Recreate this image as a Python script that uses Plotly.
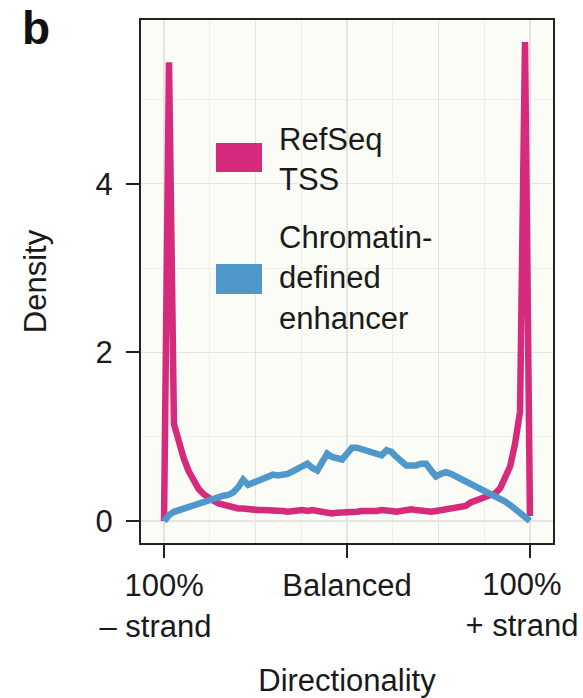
import plotly.graph_objects as go

# ---- data ----
n_points = 75
directionality = [round(-1 + 2 * k / (n_points - 1), 4) for k in range(n_points)]

refseq_tss = [
    0.00, 5.44, 1.15, 0.92, 0.74, 0.59, 0.47, 0.38, 0.32, 0.27,
    0.24, 0.21, 0.19, 0.17, 0.16, 0.15, 0.15, 0.14, 0.14, 0.13,
    0.13, 0.13, 0.12, 0.12, 0.12, 0.11, 0.12, 0.12, 0.13, 0.12,
    0.13, 0.12, 0.11, 0.10, 0.09, 0.10, 0.10, 0.10, 0.11, 0.11,
    0.12, 0.12, 0.11, 0.12, 0.13, 0.13, 0.12, 0.11, 0.12, 0.13,
    0.14, 0.13, 0.12, 0.11, 0.11, 0.12, 0.13, 0.14, 0.15, 0.16,
    0.17, 0.18, 0.22, 0.24, 0.25, 0.27, 0.29, 0.33, 0.39, 0.50,
    0.65, 0.92, 1.30, 5.68, 0.06,
]

chromatin_enhancer = [
    0.00, 0.07, 0.11, 0.13, 0.15, 0.17, 0.18, 0.21, 0.24, 0.26,
    0.28, 0.29, 0.30, 0.31, 0.34, 0.40, 0.49, 0.43, 0.45, 0.48,
    0.50, 0.53, 0.55, 0.54, 0.55, 0.56, 0.59, 0.62, 0.65, 0.68,
    0.63, 0.60, 0.70, 0.80, 0.76, 0.74, 0.73, 0.80, 0.87, 0.87,
    0.85, 0.83, 0.81, 0.79, 0.78, 0.84, 0.82, 0.76, 0.70, 0.66,
    0.66, 0.66, 0.68, 0.68, 0.60, 0.53, 0.56, 0.58, 0.56, 0.53,
    0.50, 0.47, 0.44, 0.41, 0.38, 0.35, 0.33, 0.31, 0.27, 0.23,
    0.19, 0.14, 0.10, 0.05, 0.00,
]

NB = "\u00a0"
x_tick_values = [-1, 0, 1]
x_tick_labels = ["100%<br>\u2013 strand" + NB * 2, "Balanced",
                 "100%<br>+ strand"]
y_tick_values = [0, 2, 4]
series_names = ["RefSeq<br>TSS", "Chromatin-<br>defined<br>enhancer"]

# ---- style ----
PINK = "#d62a7c"
BLUE = "#4e98cb"
FONT = "Liberation Sans, Arial, Helvetica, sans-serif"
W, H = 583, 698
L, R, T, B = 141, 553, 20, 543  # plot area in pixels


def px_x(p):
    return (p - L) / (R - L)


def px_y(p):
    return (B - p) / (B - T)


fig = go.Figure()
fig.add_trace(go.Scatter(x=directionality, y=refseq_tss, mode="lines",
                         line=dict(color=PINK, width=6.5, shape="linear"),
                         name="RefSeq TSS", showlegend=False, hoverinfo="skip"))
fig.add_trace(go.Scatter(x=directionality, y=chromatin_enhancer, mode="lines",
                         xaxis="x2",
                         line=dict(color=BLUE, width=6.5, shape="linear"),
                         name="Chromatin-defined enhancer", showlegend=False,
                         hoverinfo="skip"))

x_range = [-1.126, 1.126]
y_range = [-0.26, 5.94]
major_grid = "#e4e4e4"
minor_grid = "#efefef"
tick_font = dict(size=31, family=FONT, color="#1a1a1a")

fig.update_layout(
    width=W, height=H,
    margin=dict(l=L, r=W - R, t=T, b=H - B, pad=0, autoexpand=False),
    paper_bgcolor="white",
    plot_bgcolor="#fcfcf6",
    font=dict(family=FONT, size=31, color="#1a1a1a"),
    showlegend=False,
    xaxis=dict(
        range=x_range, tickmode="array", tickvals=x_tick_values,
        ticktext=x_tick_labels[:2] + [""], ticks="outside", ticklen=13,
        tickwidth=2, tickcolor="#222", ticklabelstandoff=1,
        ticklabeloverflow="allow", automargin=False,
        showgrid=True, gridcolor=major_grid, gridwidth=1.5, zeroline=False,
        showline=True, linecolor="#222", linewidth=2, mirror=True,
        minor=dict(tickmode="array", tickvals=[-0.75, -0.25, 0.25, 0.75],
                   showgrid=True, gridcolor=minor_grid, gridwidth=1, ticks=""),
        title=dict(text="Directionality", standoff=35,
                   font=dict(size=31, family=FONT)),
        tickfont=tick_font,
    ),
    # overlay axis: grid at +-0.5 and the right-hand tick label
    xaxis2=dict(
        range=x_range, overlaying="x", anchor="y", side="bottom",
        tickmode="array", tickvals=[-0.5, 0.5, 1],
        ticktext=["", "", x_tick_labels[2]], ticks="outside", ticklen=13,
        tickwidth=2, tickcolor="rgba(0,0,0,0)", ticklabelstandoff=1,
        ticklabelshift=-8, ticklabeloverflow="allow",
        showgrid=True, gridcolor=major_grid, gridwidth=1.5,
        zeroline=False, showline=False, automargin=False, tickfont=tick_font,
    ),
    yaxis=dict(
        range=y_range, tickmode="array", tickvals=y_tick_values,
        ticks="outside", ticklen=13, tickwidth=2, tickcolor="#222",
        ticklabelstandoff=7, automargin=False,
        showgrid=True, gridcolor=major_grid, gridwidth=1.5, zeroline=False,
        showline=True, linecolor="#222", linewidth=2, mirror=True,
        minor=dict(tickmode="array", tickvals=[1, 3, 5], showgrid=True,
                   gridcolor=minor_grid, gridwidth=1, ticks=""),
        title=dict(text="Density", standoff=40,
                   font=dict(size=31, family=FONT)),
        tickfont=tick_font,
    ),
)

# ---- manual legend with filled keys ----
legend_keys = [(PINK, 143, 172, 162), (BLUE, 264, 294, 280)]
for (color, top, bottom, text_mid), label in zip(legend_keys, series_names):
    fig.add_shape(type="rect", xref="paper", yref="paper",
                  x0=px_x(216), x1=px_x(262), y0=px_y(bottom), y1=px_y(top),
                  fillcolor=color, line=dict(width=0), layer="above")
    fig.add_annotation(text=label, xref="paper", yref="paper",
                       x=px_x(277), y=px_y(text_mid - 2), xanchor="left",
                       yanchor="middle", align="left", showarrow=False,
                       font=dict(size=31, family=FONT, color="#1a1a1a"))

# panel letter
fig.add_annotation(text="<b>b</b>", xref="paper", yref="paper",
                   x=px_x(20), y=px_y(0), xanchor="left", yanchor="top",
                   showarrow=False, font=dict(size=46, family=FONT, color="#111"))

# remove the default page margin so the figure sits at the window's corner
fig.write_html("out.html", config={"displayModeBar": False, "staticPlot": True},
               post_script="document.body.style.margin='0';")
